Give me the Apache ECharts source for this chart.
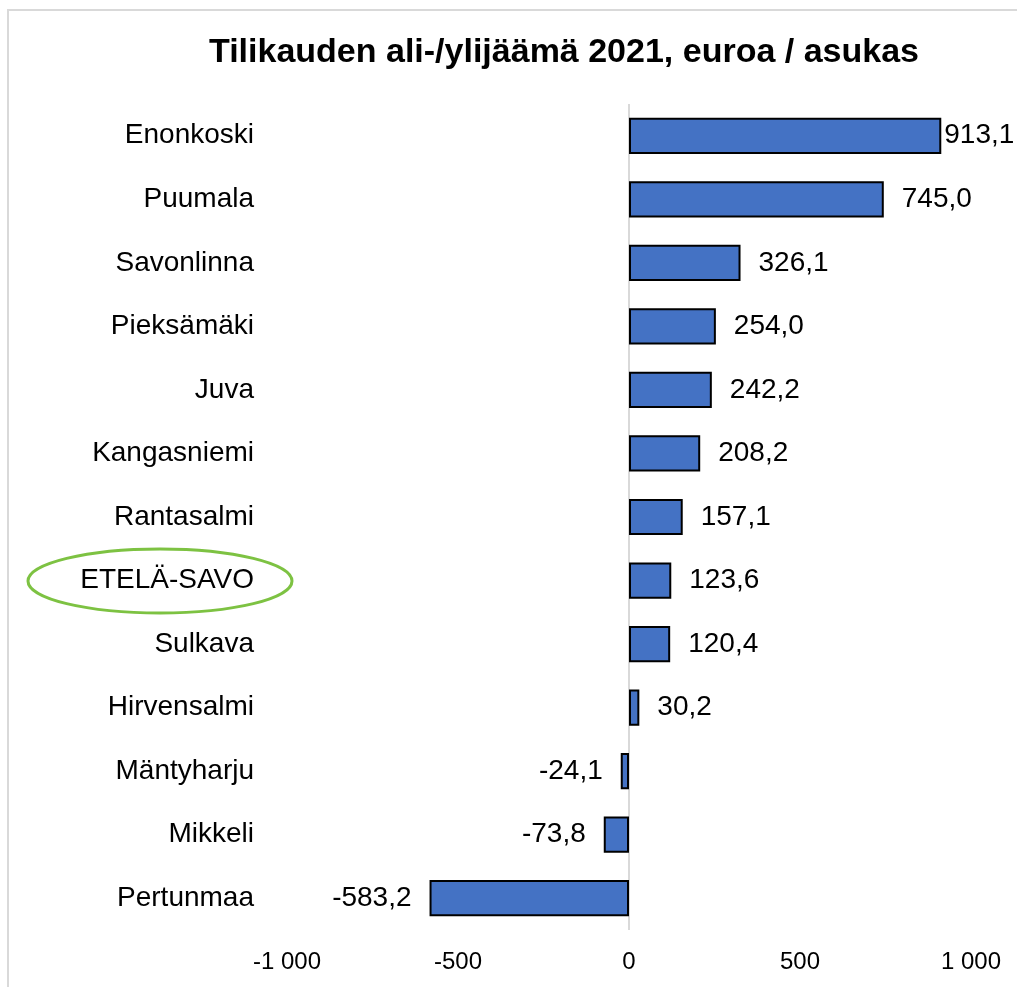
<!DOCTYPE html>
<html>
<head>
<meta charset="utf-8">
<script src="https://cdn.jsdelivr.net/npm/echarts@6/dist/echarts.min.js"></script>
<style>html,body{margin:0;padding:0;background:#fff;}#c{width:1017px;height:987px;}</style>
</head>
<body>
<div id="c"></div>
<script>
const titleText = 'Tilikauden ali-/ylijäämä 2021, euroa / asukas';
const categories = ['Enonkoski','Puumala','Savonlinna','Pieksämäki','Juva','Kangasniemi','Rantasalmi','ETELÄ-SAVO','Sulkava','Hirvensalmi','Mäntyharju','Mikkeli','Pertunmaa'];
const values = [913.1, 745.0, 326.1, 254.0, 242.2, 208.2, 157.1, 123.6, 120.4, 30.2, -24.1, -73.8, -583.2];
const axisMin = -1000, axisMax = 1000, axisStep = 500;

const FONT = '"Liberation Sans", Arial, sans-serif';
const fmtVal = v => v.toFixed(1).replace('.', ',');
const fmtTick = v => {
  const s = Math.abs(v).toString().replace(/\B(?=(\d{3})+(?!\d))/g, ' ');
  return (v < 0 ? '-' : '') + s;
};

const chart = echarts.init(document.getElementById('c'), null, {renderer: 'canvas'});
const data = values.map((v, i) => {
  const item = {
    value: v,
    label: {position: v < 0 ? 'left' : 'right', distance: 18}
  };
  if (i === 0) item.label.distance = 3;
  return item;
});

chart.setOption({
  animation: false,
  backgroundColor: '#ffffff',
  title: {
    text: titleText,
    left: 559, top: 31,
    textAlign: 'center',
    textStyle: {fontFamily: FONT, fontSize: 34, fontWeight: 'bold', color: '#000'}
  },
  grid: {left: 287, right: 46, top: 104, bottom: 57, containLabel: false},
  xAxis: {
    type: 'value', min: axisMin, max: axisMax, interval: axisStep,
    axisLine: {show: false}, axisTick: {show: false}, splitLine: {show: false},
    axisLabel: {fontFamily: FONT, fontSize: 24, color: '#000', margin: 20, formatter: fmtTick}
  },
  yAxis: {
    type: 'category', data: categories, inverse: true,
    axisLine: {show: false}, axisTick: {show: false},
    axisLabel: {fontFamily: FONT, fontSize: 28, color: '#000', margin: 33}
  },
  series: [{
    type: 'bar',
    data: data,
    barCategoryGap: '43%',
    itemStyle: {color: '#4472C4', borderColor: '#000', borderWidth: 2},
    label: {show: true, fontFamily: FONT, fontSize: 28, color: '#000', formatter: p => fmtVal(p.value)},
    markLine: {
      silent: true, symbol: 'none', label: {show: false},
      lineStyle: {color: '#d9d9d9', width: 2, type: 'solid'},
      data: [{xAxis: 0}],
      z: 1
    },
    z: 3
  }],
  graphic: [
    {type: 'rect', shape: {x: 8, y: 10, width: 1200, height: 1200}, style: {fill: 'none', stroke: '#d9d9d9', lineWidth: 2}, silent: true},
    {type: 'ellipse', shape: {cx: 160, cy: 581, rx: 132, ry: 32}, style: {fill: 'none', stroke: '#7DC242', lineWidth: 3}, silent: true}
  ]
});
</script>
</body>
</html>
